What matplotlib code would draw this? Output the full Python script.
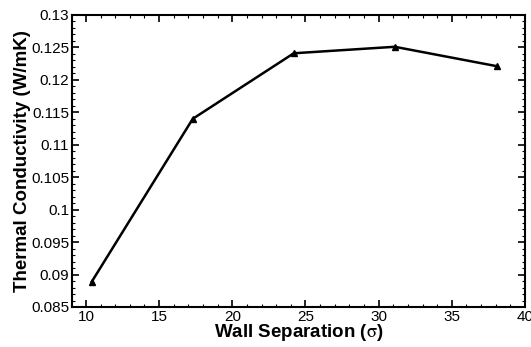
import matplotlib
matplotlib.use("Agg")
import matplotlib.pyplot as plt
from matplotlib.ticker import MultipleLocator, FuncFormatter

plt.rcParams['font.family'] = ['Liberation Sans', 'DejaVu Sans']
plt.rcParams['mathtext.fontset'] = 'stix'

# wall separation (sigma) vs thermal conductivity
separation = [10.4, 17.3, 24.2, 31.1, 38.1]
conductivity = [0.0889, 0.1140, 0.1241, 0.1251, 0.1221]

fig = plt.figure(figsize=(5.31, 3.47), dpi=100)
ax = fig.add_axes([0.1356, 0.1153, 0.8531, 0.8415])

ax.plot(separation, conductivity, color='black', linewidth=1.8,
        marker='^', markersize=5)

ax.set_xlim(9.05, 40)
ax.set_ylim(0.085, 0.13)
ax.xaxis.set_major_locator(MultipleLocator(5))
ax.xaxis.set_minor_locator(MultipleLocator(1))
ax.yaxis.set_major_locator(MultipleLocator(0.005))
ax.yaxis.set_minor_locator(MultipleLocator(0.001))
ax.yaxis.set_major_formatter(FuncFormatter(lambda v, p: f'{round(v, 4):g}'))

ax.tick_params(which='both', direction='in', top=True, right=True,
               labelsize=11, pad=2)
ax.tick_params(which='major', length=5, width=1.2)
ax.tick_params(which='minor', length=2.5, width=0.8)
for s in ax.spines.values():
    s.set_linewidth(1.5)

ax.set_xlabel(r'Wall Separation ($\mathrm{\sigma}$)', fontsize=13.5,
              fontweight='bold', labelpad=-1)
ax.set_ylabel('Thermal Conductivity (W/mK)', fontsize=13.5, fontweight='bold',
              labelpad=0)

fig.savefig('out.png', dpi=100)
